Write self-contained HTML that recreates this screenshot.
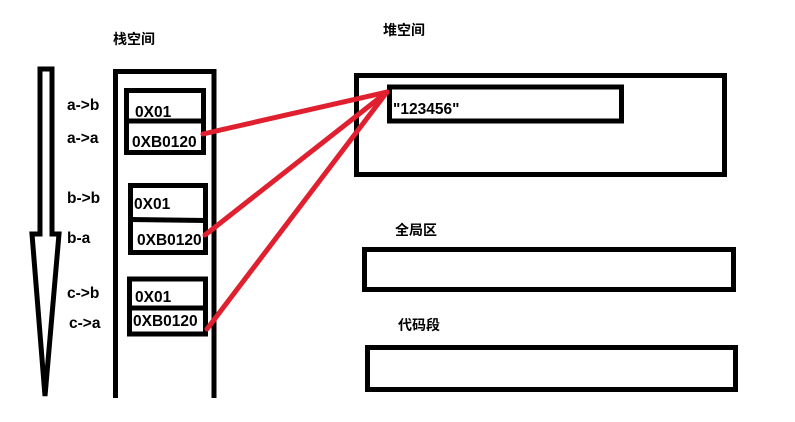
<!DOCTYPE html>
<html><head><meta charset="utf-8"><style>
html,body{margin:0;padding:0;background:#fff;width:795px;height:422px;overflow:hidden}
svg{display:block}
text{font-family:"Liberation Sans","Noto Sans CJK SC",sans-serif;font-weight:bold;fill:#000}
.l{font-size:15.5px}
.c{font-size:14px}
</style></head><body>
<svg width="795" height="422" viewBox="0 0 795 422">
<path d="M40 69 L52 69 L52 234 L59 234 L45 396 L32 234 L40 234 Z" fill="none" stroke="#000" stroke-width="5" stroke-linejoin="miter"/>
<path d="M115.5 398 L115.5 71.5 L214 71.5 L214 398" fill="none" stroke="#000" stroke-width="5"/>
<text class="c" x="113" y="44">栈空间</text>
<rect x="126.5" y="90.5" width="77" height="62" fill="none" stroke="#000" stroke-width="5"/>
<line x1="126" y1="121" x2="204" y2="121" stroke="#000" stroke-width="5"/>
<rect x="130.5" y="185.5" width="75" height="67" fill="none" stroke="#000" stroke-width="5"/>
<line x1="130" y1="219.5" x2="206" y2="220.5" stroke="#000" stroke-width="5"/>
<rect x="129.5" y="279" width="76" height="55" fill="none" stroke="#000" stroke-width="5"/>
<line x1="129" y1="308" x2="206" y2="308" stroke="#000" stroke-width="5"/>
<text class="l" x="67" y="110">a-&gt;b</text>
<text class="l" x="67" y="143">a-&gt;a</text>
<text class="l" x="67" y="203">b-&gt;b</text>
<text class="l" x="67" y="243">b-a</text>
<text class="l" x="67" y="298">c-&gt;b</text>
<text class="l" x="69" y="328">c-&gt;a</text>
<text class="l" x="135" y="117">0X01</text>
<text class="l" x="132" y="147">0XB0120</text>
<text class="l" x="134" y="209">0X01</text>
<text class="l" x="137" y="245">0XB0120</text>
<text class="l" x="135" y="302">0X01</text>
<text class="l" x="133" y="326">0XB0120</text>
<text class="c" x="383" y="35">堆空间</text>
<rect x="356.5" y="75.5" width="368" height="99" fill="none" stroke="#000" stroke-width="5"/>
<rect x="389.5" y="87" width="232" height="34" fill="none" stroke="#000" stroke-width="5"/>
<text class="l" x="393" y="114">"123456"</text>
<text class="c" x="395" y="235">全局区</text>
<rect x="364.5" y="249.5" width="369" height="40" fill="none" stroke="#000" stroke-width="5"/>
<text class="c" x="398" y="330">代码段</text>
<rect x="367.5" y="347.5" width="368" height="42" fill="none" stroke="#000" stroke-width="5"/>
<g stroke="#e0202e" stroke-width="5" stroke-linecap="round">
<line x1="203" y1="134" x2="387" y2="92"/>
<line x1="205" y1="235" x2="387" y2="92"/>
<line x1="207" y1="329" x2="387" y2="92"/>
</g>
</svg>
</body></html>
